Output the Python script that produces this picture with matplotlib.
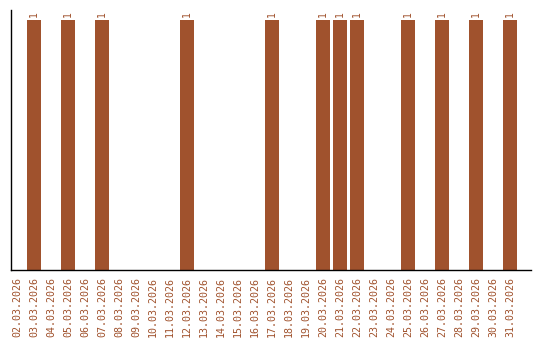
import matplotlib
matplotlib.use('Agg')
import matplotlib.pyplot as plt

dates = ['02.03.2026', '03.03.2026', '04.03.2026', '05.03.2026', '06.03.2026',
         '07.03.2026', '08.03.2026', '09.03.2026', '10.03.2026', '11.03.2026',
         '12.03.2026', '13.03.2026', '14.03.2026', '15.03.2026', '16.03.2026',
         '17.03.2026', '18.03.2026', '19.03.2026', '20.03.2026', '21.03.2026',
         '22.03.2026', '23.03.2026', '24.03.2026', '25.03.2026', '26.03.2026',
         '27.03.2026', '28.03.2026', '29.03.2026', '30.03.2026', '31.03.2026']
counts = [0, 1, 0, 1, 0, 1, 0, 0, 0, 0, 1, 0, 0, 0, 0,
          1, 0, 0, 1, 1, 1, 0, 0, 1, 0, 1, 0, 1, 0, 1]

color = '#a0522d'

fig = plt.figure(figsize=(5.4, 3.4), dpi=100)
ax = fig.add_axes([10.7 / 540, 1 - 270 / 340, 520 / 540, 260 / 340])

x = list(range(len(dates)))
bars = ax.bar(x, counts, width=0.82, color=color)

for xi, c in zip(x, counts):
    if c > 0:
        ax.text(xi, c + 0.012, str(c), rotation=90, ha='center', va='bottom',
                fontsize=7, color=color, family='DejaVu Sans Mono')

ax.set_xlim(-0.37, 30.22)
ax.set_ylim(0, 1.04)
ax.set_xticks(x)
ax.set_xticklabels(dates, rotation=90, fontsize=7.2, color=color,
                   family='DejaVu Sans Mono')
ax.tick_params(axis='x', length=0, pad=5)
ax.set_yticks([])
for s in ['top', 'right']:
    ax.spines[s].set_visible(False)
for s in ['left', 'bottom']:
    ax.spines[s].set_linewidth(1.0)

fig.savefig('out.png', dpi=100)
